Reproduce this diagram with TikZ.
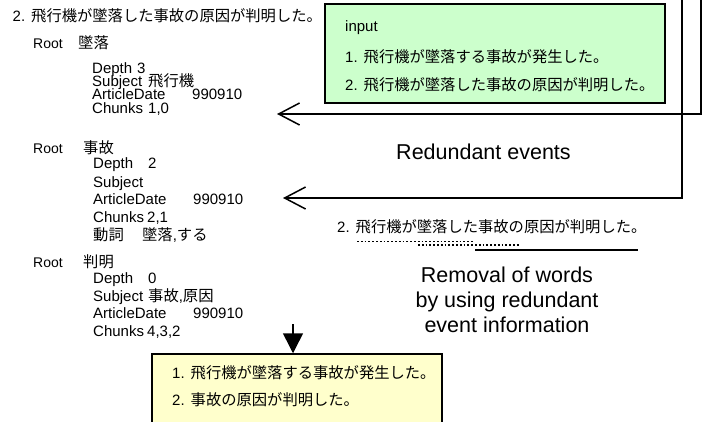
\documentclass[tikz,border=0pt]{standalone}
\usepackage{fontspec}
\setmainfont{Liberation Sans}
\newfontfamily\jpfont{Noto Sans CJK JP}
\newcommand{\jp}{\jpfont\fontsize{15.3}{18}\selectfont}
\usetikzlibrary{arrows.meta}
\definecolor{boxgreen}{HTML}{CCFFCC}
\definecolor{boxyellow}{HTML}{FFFFCC}
\newcommand{\kv}[3]{\makebox[#1][l]{#2}#3}
\newcommand{\nm}[1]{#1.\hspace{6pt}}
\begin{document}
\begin{tikzpicture}[x=1pt,y=-1pt,
  txt/.style={anchor=base west, inner sep=0pt, font=\fontsize{15}{18}\selectfont},
  rootline/.style={anchor=base west, inner sep=0pt, font=\fontsize{14}{18}\selectfont},
  big/.style={inner sep=0pt, font=\fontsize{21.5}{25}\selectfont, align=center},
  panel/.style={draw=black, line width=1.5pt, inner sep=0pt},
  link/.style={line width=1.5pt, draw=black},
  barbtip/.style={-{Straight Barb[length=21pt,width=22pt]}},
  solidtip/.style={-{Triangle[length=20pt,width=20pt]}},
  dotline/.style={line width=1.8pt, dash pattern=on 1.8pt off 2pt}
]
\clip (0,0) rectangle (706,421);

% left column
\node[txt] (top) at (12.5,21) {\nm{2}{\jp 飛行機が墜落した事故の原因が判明した。}};

\node[rootline] (r1) at (33,48.8) {\kv{45pt}{Root}{\jp 墜落}};
\node[txt] (r1a) at (92,73.8) {\kv{45pt}{Depth}{3}};
\node[txt] (r1b) at (92,86.5) {\kv{56pt}{Subject}{\jp 飛行機}};
\node[txt] (r1c) at (92,99.8) {\kv{100pt}{ArticleDate}{990910}};
\node[txt] (r1d) at (92,113.2) {\kv{56pt}{Chunks}{1,0}};

\node[rootline] (r2) at (33,153.8) {\kv{50pt}{Root}{\jp 事故}};
\node[txt] (r2a) at (93,168.8) {\kv{55pt}{Depth}{2}};
\node[txt] (r2b) at (93,187.2) {Subject};
\node[txt] (r2c) at (93,204.8) {\kv{100pt}{ArticleDate}{990910}};
\node[txt] (r2d) at (93,222.8) {\kv{54pt}{Chunks}{2,1}};
\node[txt] (r2e) at (93,240.5) {\kv{49pt}{\jp 動詞}{{\jp 墜落},{\jp する}}};

\node[rootline] (r3) at (33,267.2) {\kv{50pt}{Root}{\jp 判明}};
\node[txt] (r3a) at (93,283.8) {\kv{55pt}{Depth}{0}};
\node[txt] (r3b) at (93,301.5) {\kv{55pt}{Subject}{{\jp 事故},{\jp 原因}}};
\node[txt] (r3c) at (93,318.8) {\kv{100pt}{ArticleDate}{990910}};
\node[txt] (r3d) at (93,336.2) {\kv{54pt}{Chunks}{4,3,2}};

% input box
\node[panel, fill=boxgreen, minimum width=340pt, minimum height=99pt] (inbox) at (495,53.5) {};
\node[txt] (in0) at (345,31) {input};
\node[txt] (in1) at (345,62.5) {\nm{1}{\jp 飛行機が墜落する事故が発生した。}};
\node[txt] (in2) at (345,90.5) {\nm{2}{\jp 飛行機が墜落した事故の原因が判明した。}};

% output box
\node[panel, fill=boxyellow, minimum width=290pt, minimum height=90pt] (outbox) at (297,399) {};
\node[txt] (out1) at (172,378.5) {\nm{1}{\jp 飛行機が墜落する事故が発生した。}};
\node[txt] (out2) at (172,405.5) {\nm{2}{\jp 事故の原因が判明した。}};

% labels
\node[big] (red) at (483.5,152) {Redundant events};
\node[txt] (sent) at (337,232.5) {\nm{2}{\jp 飛行機が墜落した事故の原因が判明した。}};
\node[big] (rem) at (507,300) {Removal of words\\by using redundant\\event information};

% underlines
\coordinate (u1a) at (357,241.5); \coordinate (u1b) at (473,241.5);
\coordinate (u2a) at (418,245); \coordinate (u2b) at (520,245);
\coordinate (u3a) at (475,250); \coordinate (u3b) at (638,250);
\draw[dotline] (u1a) -- (u1b);
\draw[dotline] (u2a) -- (u2b);
\draw[line width=2pt] (u3a) -- (u3b);

% connectors
\coordinate (s1) at (701,-3); \coordinate (e1) at (277,114);
\coordinate (s2) at (682,-3); \coordinate (e2) at (283,198);
\draw[link, barbtip] (s1) |- (e1);
\draw[link, barbtip] (s2) |- (e2);
\coordinate (da) at (293,324);
\draw[link, solidtip] (da) -- (da |- outbox.north);
\end{tikzpicture}
\end{document}
